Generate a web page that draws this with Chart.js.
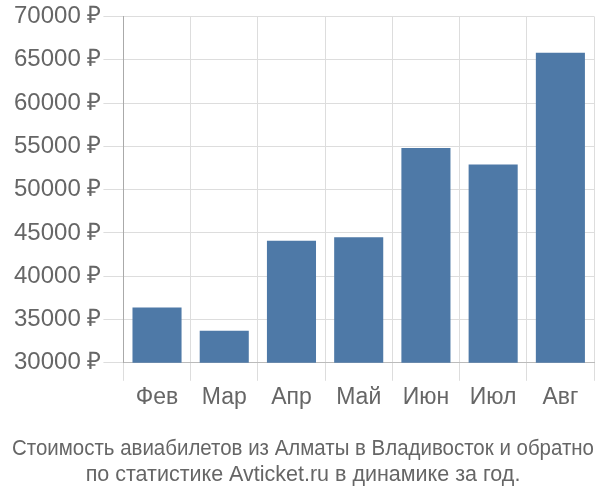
<!DOCTYPE html>
<html>
<head>
<meta charset="utf-8">
<script src="https://cdn.jsdelivr.net/npm/chart.js@4"></script>
<style>
  body { margin: 0; background: #fff; }
  #wrap { width: 600px; height: 500px; }
</style>
</head>
<body>
<div id="wrap"><canvas id="priceChart"></canvas></div>
<script>
const months = ["Фев", "Мар", "Апр", "Май", "Июн", "Июл", "Авг"];
const prices = [36400, 33700, 44100, 44500, 54800, 52900, 65800];
const yTicks = [30000, 35000, 40000, 45000, 50000, 55000, 60000, 65000, 70000];
const titleLines = [
  "Стоимость авиабилетов из Алматы в Владивосток и обратно",
  "по статистике Avticket.ru в динамике за год."
];

const ctx = document.getElementById("priceChart").getContext("2d");
new Chart(ctx, {
  type: "bar",
  data: {
    labels: months,
    datasets: [{
      data: prices,
      backgroundColor: "#4e79a7",
      borderWidth: 0,
      barPercentage: 0.73,
      categoryPercentage: 1
    }]
  },
  options: {
    responsive: true,
    maintainAspectRatio: false,
    animation: false,
    layout: { padding: { top: 0, right: 6, left: 12, bottom: 0 } },
    plugins: {
      legend: { display: false },
      tooltip: { enabled: false },
      title: {
        display: true,
        position: "bottom",
        text: titleLines,
        color: "#666",
        font: { family: "Liberation Sans, Arial, sans-serif", size: 21.5, weight: "normal" },
        padding: { top: 22, bottom: 12 },
        lineHeight: 1.3
      }
    },
    scales: {
      x: {
        grid: { color: "#dddddd", tickLength: 18, offset: true },
        border: { color: "#bbbbbb" },
        ticks: {
          color: "#666",
          font: { family: "Liberation Sans, Arial, sans-serif", size: 23 },
          padding: 3
        }
      },
      y: {
        min: 30000,
        max: 70000,
        afterBuildTicks: axis => { axis.ticks = yTicks.map(v => ({ value: v })); },
        grid: { color: "#dddddd", tickLength: 20 },
        border: { color: "#aaaaaa" },
        ticks: {
          color: "#666",
          font: { family: "Liberation Sans, Arial, sans-serif", size: 24 },
          padding: 2,
          callback: v => v + " ₽"
        }
      }
    }
  }
});
</script>
</body>
</html>
